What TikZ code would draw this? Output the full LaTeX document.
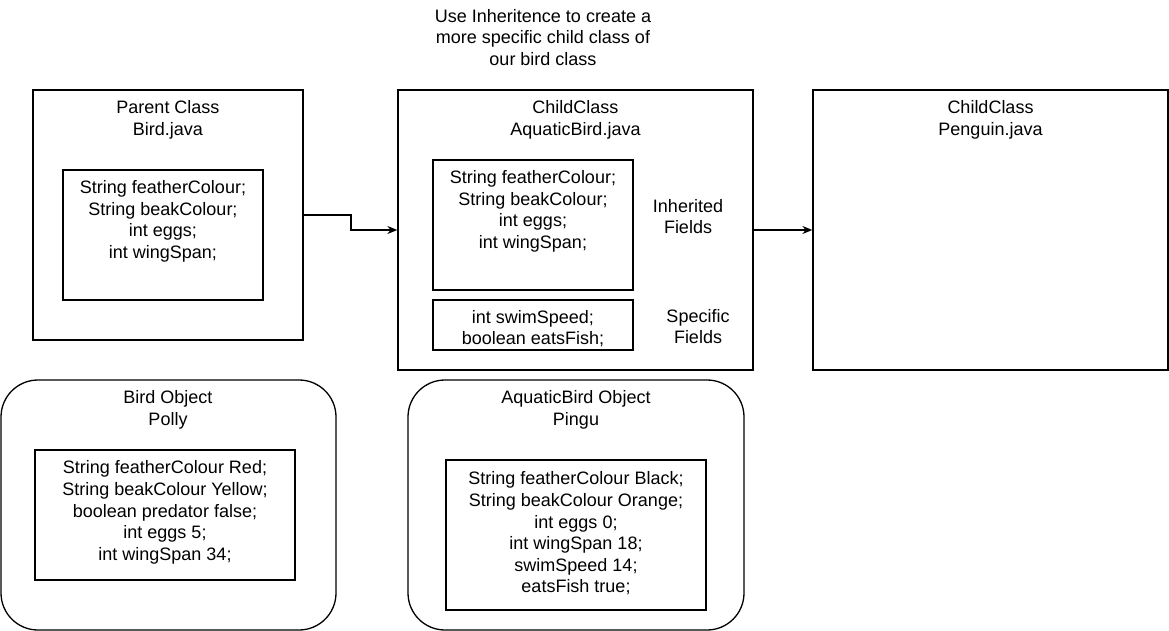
\documentclass[tikz,border=0pt]{standalone}
\usepackage{fontspec}
\setmainfont{Liberation Sans}
\usetikzlibrary{arrows.meta}
\begin{document}
\begin{tikzpicture}[x=1pt,y=-1pt,
  box/.style={draw=black,line width=1.3pt},
  rbox/.style={draw=black,line width=1.3pt,rounded corners=37pt},
  txt/.style={align=center,inner sep=0pt,font=\fontsize{18}{21.6}\selectfont},
  conn/.style={draw=black,line width=1.3pt,-{Stealth[length=10pt,width=8pt]}}]
\useasboundingbox (0,0) rectangle (1169,631);
% title
\node[txt] (title) at (543,37.5) {Use Inheritence to create a\\more specific child class of\\our bird class};
% parent class
\node[box,minimum width=270pt,minimum height=250pt,inner sep=0pt] (parent) at (168,215) {};
\node[txt] (parentT) at (168,120) {Parent Class\\Bird.java};
\node[box,minimum width=200pt,minimum height=130pt,inner sep=0pt] (pin) at (163,235) {};
\node[txt] (pinT) at (163,221.5) {String featherColour;\\String beakColour;\\int eggs;\\int wingSpan;};
% child class
\node[box,minimum width=355pt,minimum height=280pt,inner sep=0pt] (child) at (575.5,230) {};
\node[txt] (childT) at (575.5,120) {ChildClass\\AquaticBird.java};
\node[box,minimum width=200pt,minimum height=130pt,inner sep=0pt] (cin) at (533,225) {};
\node[txt] (cinT) at (533,211.5) {String featherColour;\\String beakColour;\\int eggs;\\int wingSpan;};
\node[txt] (inh) at (688,216.5) {Inherited\\Fields};
\node[box,minimum width=200pt,minimum height=50pt,inner sep=0pt] (cspec) at (533,325) {};
\node[txt] (cspecT) at (533,328.5) {int swimSpeed;\\boolean eatsFish;};
\node[txt] (spec) at (698,326.5) {Specific\\Fields};
% penguin
\node[box,minimum width=355pt,minimum height=280pt,inner sep=0pt] (peng) at (990.5,230) {};
\node[txt] (pengT) at (990.5,120) {ChildClass\\Penguin.java};
% bird object
\draw[rbox] (1,380) rectangle (336,630);
\node[txt] (bobjT) at (168,410) {Bird Object\\Polly};
\node[box,minimum width=260pt,minimum height=130pt,inner sep=0pt] (bin) at (165,515) {};
\node[txt] (binT) at (165,512.5) {String featherColour Red;\\String beakColour Yellow;\\boolean predator false;\\int eggs 5;\\int wingSpan 34;};
% aquatic object
\draw[rbox] (408,380) rectangle (744,630);
\node[txt] (aobjT) at (576,410) {AquaticBird Object\\Pingu};
\node[box,minimum width=260pt,minimum height=150pt,inner sep=0pt] (ain) at (576,535) {};
\node[txt] (ainT) at (576,533.5) {String featherColour Black;\\String beakColour Orange;\\int eggs 0;\\int wingSpan 18;\\swimSpeed 14;\\eatsFish true;};
% connectors
\draw[conn] (parent.east) -- (351,215) -- (351,230) -- (child.west);
\draw[conn] (child.east) -- (peng.west);
\end{tikzpicture}
\end{document}
